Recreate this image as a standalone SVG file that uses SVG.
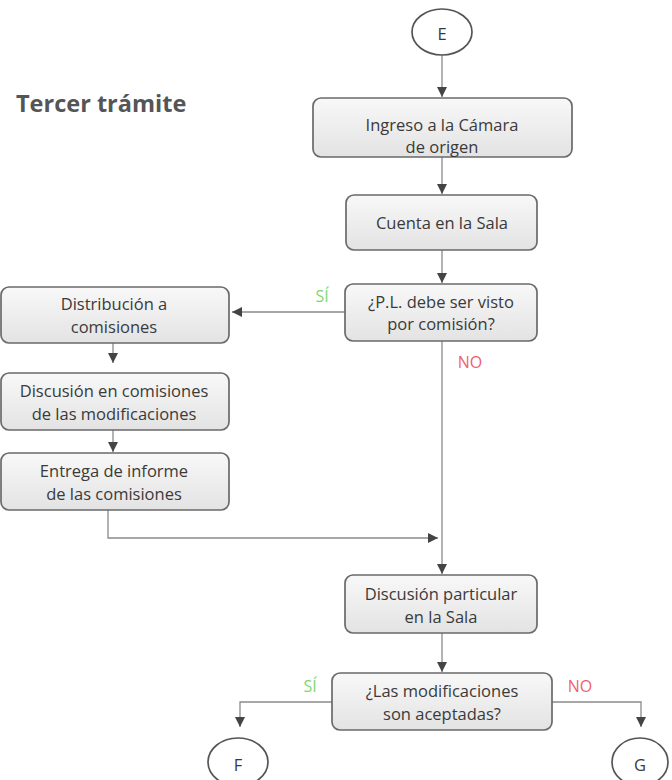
<svg xmlns="http://www.w3.org/2000/svg" width="672" height="780" viewBox="0 0 672 780">
<defs>
<linearGradient id="g" x1="0" y1="0" x2="0" y2="1">
<stop offset="0" stop-color="#f8f8f8"/>
<stop offset="1" stop-color="#e3e3e3"/>
</linearGradient>
<marker id="ar" viewBox="0 0 10 10" refX="10" refY="5" markerWidth="10" markerHeight="10" markerUnits="userSpaceOnUse" orient="auto">
<path d="M0,0 L10,5 L0,10 z" fill="#444"/>
</marker>
</defs>
<style>
.box{fill:url(#g);stroke:#6a6a6a;stroke-width:1.7}
.t{font-family:"Open Sans","Noto Sans",sans-serif;font-size:16.5px;fill:#3a3a3a;text-anchor:middle;dominant-baseline:central}
.c{fill:#fff;stroke:#555;stroke-width:1.7}
.ln{fill:none;stroke:#8a8a8a;stroke-width:1.3}
.si{font-family:"Open Sans","Noto Sans",sans-serif;font-size:16px;fill:#7fd86e;text-anchor:middle;dominant-baseline:central}
.no{font-family:"Open Sans","Noto Sans",sans-serif;font-size:16px;fill:#ef5f6a;text-anchor:middle;dominant-baseline:central}
.title{font-family:"Open Sans","Noto Sans",sans-serif;font-size:23.5px;font-weight:bold;fill:#555}
</style>
<rect width="672" height="780" fill="#fff"/>
<text class="title" x="16" y="112">Tercer trámite</text>

<g id="connectors">
<line class="ln" x1="442" y1="55" x2="442" y2="97" marker-end="url(#ar)"/>
<line class="ln" x1="442" y1="157" x2="442" y2="194" marker-end="url(#ar)"/>
<line class="ln" x1="442" y1="250" x2="442" y2="283" marker-end="url(#ar)"/>
<line class="ln" x1="345" y1="312" x2="232" y2="312" marker-end="url(#ar)"/>
<line class="ln" x1="113" y1="343" x2="113" y2="363" marker-end="url(#ar)"/>
<line class="ln" x1="113" y1="430" x2="113" y2="452" marker-end="url(#ar)"/>
<polyline class="ln" points="108,510 108,538 438,538" marker-end="url(#ar)"/>
<line class="ln" x1="442" y1="341" x2="442" y2="574" marker-end="url(#ar)"/>
<line class="ln" x1="442" y1="633" x2="442" y2="672" marker-end="url(#ar)"/>
<polyline class="ln" points="332,702 240,702 240,727" marker-end="url(#ar)"/>
<polyline class="ln" points="552,702 641,702 641,727" marker-end="url(#ar)"/>
<text class="si" x="322" y="296">SÍ</text>
<text class="no" x="470" y="362">NO</text>
<text class="si" x="310" y="686">SÍ</text>
<text class="no" x="580" y="686">NO</text>
</g>

<g id="E"><ellipse class="c" cx="442" cy="32" rx="30" ry="23"/><text class="t" x="442" y="33">E</text></g>
<g id="ingreso"><rect class="box" x="313" y="98" width="259" height="59" rx="8"/><text class="t" x="442" y="124">Ingreso a la Cámara</text><text class="t" x="442" y="146.5">de origen</text></g>
<g id="cuenta"><rect class="box" x="346" y="195" width="191" height="55" rx="8"/><text class="t" x="442" y="222">Cuenta en la Sala</text></g>
<g id="decision1"><rect class="box" x="345" y="284" width="192" height="57" rx="8"/><text class="t" x="441" y="301">¿P.L. debe ser visto</text><text class="t" x="441" y="323.5">por comisión?</text></g>
<g id="distribucion"><rect class="box" x="1" y="287" width="228" height="56" rx="8"/><text class="t" x="114" y="303.5">Distribución a</text><text class="t" x="114" y="326">comisiones</text></g>
<g id="discusion-com"><rect class="box" x="1" y="373" width="228" height="57" rx="8"/><text class="t" x="114" y="390.5">Discusión en comisiones</text><text class="t" x="114" y="413">de las modificaciones</text></g>
<g id="entrega"><rect class="box" x="1" y="453" width="228" height="57" rx="8"/><text class="t" x="114" y="470.5">Entrega de informe</text><text class="t" x="114" y="493">de las comisiones</text></g>
<g id="discusion-part"><rect class="box" x="345" y="575" width="192" height="58" rx="8"/><text class="t" x="441" y="593.5">Discusión particular</text><text class="t" x="441" y="616">en la Sala</text></g>
<g id="decision2"><rect class="box" x="332" y="673" width="220" height="57" rx="8"/><text class="t" x="442" y="690.5">¿Las modificaciones</text><text class="t" x="442" y="713">son aceptadas?</text></g>
<g id="F"><ellipse class="c" cx="238" cy="762" rx="30" ry="24"/><text class="t" x="238" y="764">F</text></g>
<g id="G"><ellipse class="c" cx="640" cy="762" rx="28" ry="24"/><text class="t" x="640" y="764">G</text></g>
</svg>
